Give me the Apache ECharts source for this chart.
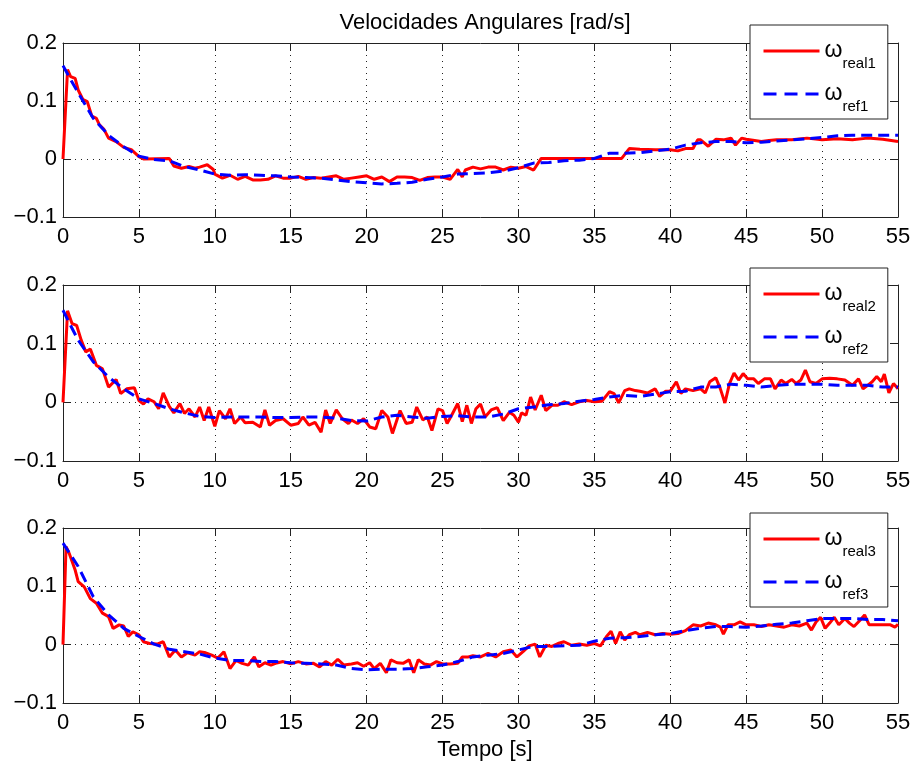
<!DOCTYPE html>
<html>
<head>
<meta charset="utf-8">
<script src="https://cdn.jsdelivr.net/npm/echarts@6/dist/echarts.min.js"></script>
<style>html,body{margin:0;padding:0;background:#fff}#c{width:915px;height:762px}</style>
</head>
<body>
<div id="c"></div>
<script>
var xTicks = [0, 5, 10, 15, 20, 25, 30, 35, 40, 45, 50, 55];
var yTicks = [-0.1, 0, 0.1, 0.2];
var titleText = 'Velocidades Angulares [rad/s]';
var xName = 'Tempo [s]';

var real1 = [[0,0],[0.3,0.154],[0.5,0.142],[0.8,0.139],[1.0,0.119],[1.3,0.103],[1.6,0.099],[1.9,0.074],[2.2,0.070],[2.4,0.059],[2.7,0.051],[3.0,0.036],[3.5,0.030],[4.0,0.020],[4.5,0.016],[5.0,0.004],[5.3,0.000],[7.0,0.001],[7.3,-0.012],[7.8,-0.016],[8.3,-0.013],[8.7,-0.016],[9.0,-0.014],[9.5,-0.010],[9.9,-0.018],[10.0,-0.026],[10.5,-0.033],[11.0,-0.028],[11.5,-0.035],[12.0,-0.030],[12.5,-0.036],[13.0,-0.036],[13.5,-0.035],[14.0,-0.029],[14.5,-0.033],[15.0,-0.033],[15.5,-0.030],[16.0,-0.035],[16.5,-0.032],[17.0,-0.033],[17.5,-0.031],[18.0,-0.029],[18.5,-0.035],[19.0,-0.033],[19.5,-0.031],[20.0,-0.029],[20.5,-0.035],[21.0,-0.031],[21.5,-0.039],[22.0,-0.031],[22.5,-0.031],[23.0,-0.032],[23.5,-0.037],[24.0,-0.032],[24.5,-0.031],[25.0,-0.031],[25.5,-0.035],[26.0,-0.018],[26.3,-0.031],[26.5,-0.019],[27.0,-0.014],[27.5,-0.017],[28.0,-0.014],[28.5,-0.014],[29.0,-0.019],[29.5,-0.014],[30.0,-0.016],[30.5,-0.013],[31.0,-0.019],[31.5,0.001],[36.8,0.001],[37.3,0.018],[38.0,0.017],[39.0,0.016],[40.0,0.016],[40.5,0.014],[41.0,0.018],[41.5,0.018],[41.8,0.033],[42.0,0.033],[42.5,0.022],[43.0,0.034],[43.5,0.033],[44.0,0.036],[44.3,0.024],[44.7,0.036],[45.0,0.034],[46.0,0.030],[46.5,0.032],[47.0,0.033],[48.0,0.033],[49.0,0.036],[50.0,0.033],[51.0,0.035],[52.0,0.033],[53.0,0.036],[54.0,0.034],[55.0,0.030]];
var ref1 = [[0,0.161],[0.5,0.137],[1,0.114],[2,0.070],[3,0.041],[4,0.021],[5,0.005],[6,-0.001],[7,-0.003],[8,-0.013],[9,-0.019],[10,-0.026],[11,-0.028],[12,-0.027],[13,-0.028],[14,-0.029],[15,-0.031],[16,-0.032],[17,-0.033],[18,-0.036],[19,-0.039],[20,-0.041],[21,-0.043],[22,-0.042],[23,-0.040],[24,-0.035],[25,-0.031],[26,-0.026],[27,-0.025],[28,-0.024],[29,-0.021],[30,-0.015],[31,-0.007],[32,-0.006],[33,-0.003],[34,-0.002],[35,0.001],[36,0.010],[37,0.010],[38,0.011],[39,0.014],[40,0.017],[41,0.024],[42,0.028],[43,0.030],[44,0.030],[45,0.028],[46,0.029],[47,0.031],[48,0.033],[49,0.035],[50,0.037],[51,0.040],[52,0.041],[53,0.041],[54,0.041],[55,0.041]];

var real2 = [[0,0],[0.3,0.156],[0.6,0.134],[0.9,0.131],[1.2,0.106],[1.5,0.086],[1.8,0.091],[2.2,0.063],[2.6,0.057],[3.0,0.026],[3.5,0.039],[3.8,0.015],[4.2,0.023],[4.7,0.025],[5.0,0.003],[5.3,-0.003],[5.6,0.006],[6.0,0.001],[6.3,-0.011],[6.6,0.016],[7.0,-0.007],[7.3,-0.018],[7.7,-0.002],[8.0,-0.019],[8.3,-0.011],[8.7,-0.025],[9.0,-0.008],[9.3,-0.031],[9.6,-0.008],[10.0,-0.041],[10.3,-0.014],[10.7,-0.028],[11.0,-0.011],[11.3,-0.036],[11.7,-0.025],[12.0,-0.035],[12.5,-0.034],[13.0,-0.042],[13.3,-0.013],[13.6,-0.039],[14.0,-0.031],[14.5,-0.028],[15.0,-0.039],[15.5,-0.036],[15.8,-0.025],[16.2,-0.039],[16.6,-0.034],[17.0,-0.051],[17.3,-0.013],[17.6,-0.036],[18.0,-0.013],[18.4,-0.028],[18.8,-0.036],[19.0,-0.030],[19.4,-0.036],[19.8,-0.028],[20.2,-0.042],[20.6,-0.045],[21.0,-0.014],[21.4,-0.025],[21.7,-0.053],[22.2,-0.014],[22.6,-0.036],[23.0,-0.034],[23.3,-0.008],[23.7,-0.030],[24.0,-0.025],[24.3,-0.048],[24.7,-0.011],[25.0,-0.014],[25.3,-0.036],[25.6,-0.022],[26.0,-0.002],[26.3,-0.033],[26.6,-0.005],[26.9,-0.036],[27.2,-0.011],[27.5,-0.003],[27.8,-0.025],[28.2,-0.013],[28.6,-0.009],[29.0,-0.031],[29.4,-0.017],[29.7,-0.022],[30.0,-0.034],[30.2,-0.018],[30.5,-0.022],[30.8,0.009],[31.1,-0.013],[31.5,0.012],[31.8,-0.014],[32.2,-0.005],[32.6,-0.005],[33.0,0.001],[33.5,-0.004],[34.0,0.001],[34.5,0.003],[35.0,0.001],[35.5,0.002],[36.0,0.018],[36.3,0.015],[36.6,-0.001],[37.0,0.020],[37.3,0.023],[37.7,0.020],[38.0,0.019],[38.5,0.016],[39.0,0.023],[39.3,0.010],[39.7,0.019],[40.0,0.019],[40.4,0.035],[40.7,0.015],[41.0,0.023],[41.5,0.020],[42.0,0.023],[42.3,0.016],[42.6,0.035],[43.0,0.042],[43.3,0.023],[43.6,-0.001],[43.9,0.032],[44.2,0.050],[44.5,0.038],[44.8,0.049],[45.1,0.040],[45.5,0.040],[45.8,0.032],[46.2,0.040],[46.6,0.040],[46.9,0.023],[47.3,0.038],[47.6,0.032],[48.0,0.039],[48.3,0.032],[48.6,0.038],[48.9,0.055],[49.2,0.035],[49.6,0.032],[50.0,0.040],[50.5,0.041],[51.0,0.040],[51.5,0.038],[52.0,0.029],[52.4,0.040],[52.7,0.023],[53.0,0.029],[53.3,0.035],[53.6,0.044],[53.9,0.035],[54.1,0.048],[54.4,0.016],[54.7,0.032],[55.0,0.023]];
var ref2 = [[0,0.157],[0.5,0.131],[1,0.106],[2,0.069],[3,0.043],[4,0.023],[5,0.006],[6,-0.002],[7,-0.011],[8,-0.018],[9,-0.024],[10,-0.026],[11,-0.025],[12,-0.025],[13,-0.025],[14,-0.026],[15,-0.026],[16,-0.025],[17,-0.025],[18,-0.027],[19,-0.031],[20,-0.032],[21,-0.025],[22,-0.022],[23,-0.025],[24,-0.027],[25,-0.024],[26,-0.023],[27,-0.025],[28,-0.025],[29,-0.020],[30,-0.011],[31,-0.008],[32,-0.004],[33,-0.002],[34,0.002],[35,0.005],[36,0.009],[37,0.012],[38,0.010],[39,0.014],[40,0.018],[41,0.019],[42,0.026],[43,0.026],[44,0.031],[45,0.029],[46,0.026],[47,0.029],[48,0.031],[49,0.031],[50,0.031],[51,0.029],[52,0.029],[53,0.029],[54,0.026],[55,0.026]];

var real3 = [[0,0],[0.2,0.168],[0.4,0.157],[0.8,0.128],[1.0,0.108],[1.4,0.099],[1.8,0.079],[2.2,0.071],[2.6,0.054],[3.0,0.048],[3.3,0.028],[3.7,0.034],[4.0,0.032],[4.3,0.014],[4.6,0.022],[5.0,0.017],[5.3,0.005],[5.7,0.002],[6.2,0.001],[6.6,0.005],[7.0,-0.021],[7.4,-0.009],[7.8,-0.021],[8.2,-0.014],[8.7,-0.018],[9.0,-0.012],[9.4,-0.014],[9.8,-0.018],[10.2,-0.023],[10.6,-0.012],[11.0,-0.041],[11.4,-0.027],[11.8,-0.032],[12.2,-0.035],[12.6,-0.021],[12.9,-0.038],[13.3,-0.031],[13.7,-0.035],[14.0,-0.032],[14.5,-0.029],[15.0,-0.033],[15.5,-0.029],[16.0,-0.033],[16.5,-0.032],[16.9,-0.038],[17.3,-0.029],[17.7,-0.035],[18.1,-0.025],[18.5,-0.035],[19.0,-0.033],[19.4,-0.031],[19.8,-0.037],[20.2,-0.031],[20.5,-0.041],[20.9,-0.032],[21.3,-0.048],[21.6,-0.026],[22.0,-0.031],[22.4,-0.032],[22.8,-0.026],[23.1,-0.048],[23.4,-0.026],[23.8,-0.033],[24.2,-0.035],[24.6,-0.029],[25.0,-0.033],[25.5,-0.033],[26.0,-0.032],[26.3,-0.021],[26.7,-0.021],[27.0,-0.019],[27.5,-0.021],[28.0,-0.015],[28.5,-0.021],[29.0,-0.012],[29.5,-0.009],[29.9,-0.021],[30.3,-0.012],[30.7,-0.002],[31.1,0.001],[31.4,-0.021],[31.8,-0.001],[32.2,-0.003],[32.6,0.002],[33.0,0.005],[33.5,-0.001],[34.0,0.001],[34.5,-0.001],[35.0,0.002],[35.4,-0.002],[35.8,0.014],[36.1,0.023],[36.4,0.002],[36.7,0.022],[37.0,0.008],[37.3,0.017],[37.7,0.021],[38.0,0.017],[38.5,0.021],[39.0,0.017],[39.5,0.019],[40.0,0.018],[40.5,0.019],[41.0,0.024],[41.5,0.034],[42.0,0.032],[42.5,0.037],[43.0,0.034],[43.3,0.030],[43.5,0.018],[43.8,0.034],[44.2,0.034],[44.6,0.039],[45.0,0.034],[45.5,0.034],[46.0,0.031],[46.5,0.034],[47.0,0.032],[47.5,0.030],[48.0,0.034],[48.5,0.032],[49.0,0.037],[49.3,0.025],[49.6,0.039],[49.9,0.047],[50.2,0.028],[50.5,0.037],[50.8,0.047],[51.1,0.034],[51.5,0.045],[51.8,0.037],[52.1,0.031],[52.5,0.042],[52.8,0.051],[53.1,0.034],[53.5,0.034],[54.0,0.034],[54.5,0.034],[54.8,0.030],[55.0,0.035]];
var ref3 = [[0,0.174],[0.5,0.154],[1,0.134],[2,0.082],[3,0.051],[4,0.028],[5,0.014],[6,0.001],[7,-0.008],[8,-0.012],[9,-0.016],[10,-0.023],[11,-0.027],[12,-0.027],[13,-0.029],[14,-0.029],[15,-0.031],[16,-0.032],[17,-0.033],[18,-0.035],[19,-0.041],[20,-0.043],[21,-0.042],[22,-0.042],[23,-0.041],[24,-0.038],[25,-0.035],[26,-0.029],[27,-0.021],[28,-0.018],[29,-0.015],[30,-0.009],[31,-0.003],[32,-0.003],[33,-0.002],[34,-0.001],[35,0.006],[36,0.011],[37,0.012],[38,0.014],[39,0.017],[40,0.019],[41,0.024],[42,0.028],[43,0.031],[44,0.031],[45,0.030],[46,0.032],[47,0.035],[48,0.037],[49,0.041],[50,0.045],[51,0.045],[52,0.045],[53,0.043],[54,0.043],[55,0.041]];

var realData = [real1, real2, real3];
var refData = [ref1, ref2, ref3];

var FONT = 'Liberation Sans';
var FS = 22;
var grids = [
  {left: 63, top: 43, width: 835, height: 174},
  {left: 63, top: 285, width: 835, height: 176},
  {left: 63, top: 528, width: 835, height: 175}
];
var legendTops = [25, 268, 513];

function fmtY(v) {
  if (Math.abs(v) < 1e-9) return '0';
  return v < 0 ? '\u2212' + Math.abs(v).toFixed(1) : v.toFixed(1);
}

var xAxes = [], yAxes = [], series = [], legends = [];
var axisLineStyle = {color: '#222', width: 1};
var dotted = {show: true, lineStyle: {color: '#222', width: 1, type: [1, 5]}};

for (var i = 0; i < 3; i++) {
  xAxes.push({
    type: 'value', gridIndex: i, position: 'bottom', min: xTicks[0], max: xTicks[xTicks.length - 1], interval: 5,
    axisLine: {show: true, onZero: false, lineStyle: axisLineStyle},
    axisTick: {show: true, inside: true, length: 8, lineStyle: axisLineStyle},
    axisLabel: {show: true, margin: 9, fontFamily: FONT, fontSize: FS, color: '#000', formatter: function (v) { return String(v); }},
    splitLine: dotted
  });
  xAxes.push({
    type: 'value', gridIndex: i, position: 'top', min: xTicks[0], max: xTicks[xTicks.length - 1], interval: 5,
    axisLine: {show: true, onZero: false, lineStyle: axisLineStyle},
    axisTick: {show: true, inside: true, length: 8, lineStyle: axisLineStyle},
    axisLabel: {show: false}, splitLine: {show: false}
  });
  yAxes.push({
    type: 'value', gridIndex: i, position: 'left', min: yTicks[0], max: yTicks[yTicks.length - 1], interval: 0.1,
    axisLine: {show: true, onZero: false, lineStyle: axisLineStyle},
    axisTick: {show: true, inside: true, length: 8, lineStyle: axisLineStyle},
    axisLabel: {show: true, margin: 6, fontFamily: FONT, fontSize: FS, color: '#000', formatter: fmtY},
    splitLine: dotted
  });
  yAxes.push({
    type: 'value', gridIndex: i, position: 'right', min: yTicks[0], max: yTicks[yTicks.length - 1], interval: 0.1,
    axisLine: {show: true, onZero: false, lineStyle: axisLineStyle},
    axisTick: {show: true, inside: true, length: 8, lineStyle: axisLineStyle},
    axisLabel: {show: false}, splitLine: {show: false}
  });
  var nReal = 'real' + (i + 1), nRef = 'ref' + (i + 1);
  series.push({
    name: nReal, type: 'line', xAxisIndex: 2 * i, yAxisIndex: 2 * i, data: realData[i],
    symbol: 'none', showSymbol: false, z: 3,
    lineStyle: {color: '#ff0000', width: 3}, itemStyle: {color: '#ff0000'}
  });
  series.push({
    name: nRef, type: 'line', xAxisIndex: 2 * i, yAxisIndex: 2 * i, data: refData[i],
    symbol: 'none', showSymbol: false, z: 4,
    lineStyle: {color: '#0000ff', width: 3, type: [11, 6]}, itemStyle: {color: '#0000ff'}
  });
  legends.push({
    data: [
      {name: nReal, lineStyle: {width: 3, color: '#ff0000', type: 'solid'}},
      {name: nRef, lineStyle: {width: 3, color: '#0000ff', type: [13, 8]}}
    ],
    orient: 'vertical', left: 750, top: legendTops[i],
    backgroundColor: '#fff', borderColor: '#222', borderWidth: 1,
    padding: [6, 12, 5, 12], itemGap: 3, itemWidth: 56, itemHeight: 14,
    selectedMode: false, z: 10,
    itemStyle: {opacity: 0, borderWidth: 0},
    lineStyle: {width: 3},
    formatter: function (name) { return '{w|\u03c9}{s|' + name + '}'; },
    textStyle: {
      fontFamily: FONT, color: '#000',
      rich: {
        w: {fontFamily: FONT, fontSize: 23, lineHeight: 23, color: '#000'},
        s: {fontFamily: FONT, fontSize: 15, lineHeight: 15, padding: [25, 0, 0, 0], color: '#000'}
      }
    }
  });
}

var chart = echarts.init(document.getElementById('c'), null, {renderer: 'canvas'});
chart.setOption({
  animation: false,
  backgroundColor: '#fff',
  title: [
    {text: titleText, left: 480, top: 7, textAlign: 'center', textStyle: {fontFamily: FONT, fontSize: FS, fontWeight: 'normal', color: '#000'}},
    {text: xName, left: 480, top: 734, textAlign: 'center', textStyle: {fontFamily: FONT, fontSize: FS, fontWeight: 'normal', color: '#000'}}
  ],
  grid: grids,
  xAxis: xAxes,
  yAxis: yAxes,
  legend: legends,
  series: series
});
</script>
</body>
</html>
